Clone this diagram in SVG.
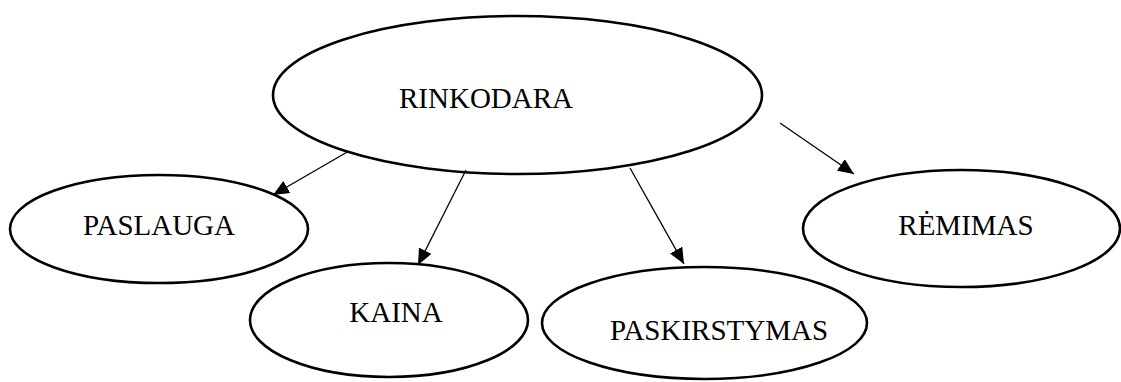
<svg xmlns="http://www.w3.org/2000/svg" width="1121" height="382" viewBox="0 0 1121 382">
  <style>
    .node ellipse { fill: #ffffff; stroke: #000000; stroke-width: 2.6; }
    .node text { font-family: "Liberation Serif", "Times New Roman", serif; font-size: 29px; fill: #000000; text-anchor: middle; }
    .edge { stroke: #000000; stroke-width: 1.3; fill: none; marker-end: url(#arrow); }
  </style>
  <defs>
    <marker id="arrow" viewBox="0 0 16 14" refX="16" refY="7" markerWidth="16" markerHeight="14" markerUnits="userSpaceOnUse" orient="auto">
      <path d="M0,0 L16,7 L0,14 Z" fill="#000000"/>
    </marker>
  </defs>
  <rect width="1121" height="382" fill="#ffffff"/>

  <g id="rinkodara" class="node">
    <ellipse cx="517.5" cy="95" rx="244.5" ry="79"/>
    <text x="486" y="108">RINKODARA</text>
  </g>
  <g id="paslauga" class="node">
    <ellipse cx="159" cy="229" rx="149" ry="54"/>
    <text x="159" y="235">PASLAUGA</text>
  </g>
  <g id="kaina" class="node">
    <ellipse cx="389" cy="320" rx="139" ry="57"/>
    <text x="396" y="322">KAINA</text>
  </g>
  <g id="paskirstymas" class="node">
    <ellipse cx="704.5" cy="323" rx="162.5" ry="56"/>
    <text x="719" y="340">PASKIRSTYMAS</text>
  </g>
  <g id="remimas" class="node">
    <ellipse cx="961.5" cy="228.5" rx="158.5" ry="58.5"/>
    <text x="966" y="235">RĖMIMAS</text>
  </g>

  <g id="connectors">
    <line class="edge" x1="349" y1="151" x2="273" y2="195"/>
    <line class="edge" x1="466" y1="170" x2="418" y2="265"/>
    <line class="edge" x1="630" y1="168" x2="684" y2="264"/>
    <line class="edge" x1="780" y1="123" x2="854" y2="174"/>
  </g>
</svg>
